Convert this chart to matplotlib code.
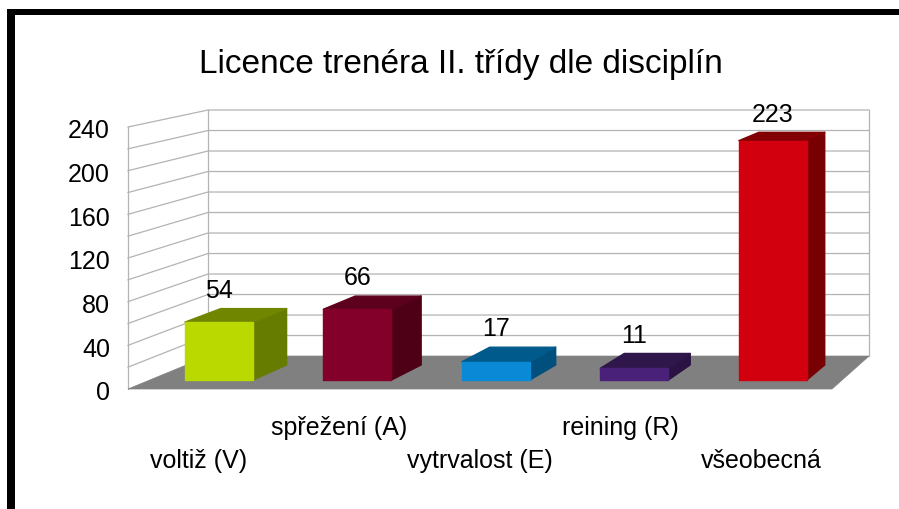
import numpy as np
import matplotlib
matplotlib.use('Agg')
import matplotlib.pyplot as plt
from matplotlib.patches import Polygon, Rectangle

plt.rcParams['font.family'] = ['Liberation Sans', 'DejaVu Sans']

# data
title = 'Licence trenéra II. třídy dle disciplín'
categories = ['voltiž (V)', 'spřežení (A)', 'vytrvalost (E)', 'reining (R)', 'všeobecná']
values = [54, 66, 17, 11, 223]
y_ticks = [0, 40, 80, 120, 160, 200, 240]
grid_step = 20
y_max = 240

# colours per bar: front, top, side
front_col = ['#b9d900', '#83002b', '#0a8ad6', '#4a2178', '#d2000e']
top_col = ['#718600', '#5c001d', '#005a8c', '#30174b', '#820004']
side_col = ['#667c00', '#4e0016', '#004f7c', '#2a1242', '#780003']

# pseudo 3d: front plane = data coords, back plane shrunk and shifted
SHRINK = 0.939
BACK_X = 0.068
BACK_Y = 30.2
D0, D1 = 0.27, 0.73     # bar depth (fraction of floor depth)
HALF_W = 0.245


def proj(u, v, d):
    bx = BACK_X + (u + 0.5) * SHRINK
    by = BACK_Y + v * SHRINK
    return u + (bx - u) * d, v + (by - v) * d


def poly(pts, **kw):
    return Polygon([proj(*p) for p in pts], closed=True, **kw)


W, H = 899, 510
fig = plt.figure(figsize=(W / 100, H / 100), dpi=100)
fig.patch.set_facecolor('white')
ax = fig.add_axes([128 / W, 120 / H, 704 / W, 262 / H])
n = len(categories)
ax.set_xlim(-0.5, n - 0.5)
ax.set_ylim(0, y_max)
ax.axis('off')

gcol = '#b3b3b3'
left, right = -0.5, n - 0.5

# walls and grid
for v in range(grid_step, y_max + 1, grid_step):
    x0, y0 = proj(left, v, 0)
    x1, y1 = proj(left, v, 1)
    x2, y2 = proj(right, v, 1)
    ax.plot([x0, x1, x2], [y0, y1, y2], color=gcol, lw=0.9, clip_on=False, zorder=1)
for u in (left, right):
    x0, y0 = proj(u, 0, 1)
    x1, y1 = proj(u, y_max, 1)
    ax.plot([x0, x1], [y0, y1], color=gcol, lw=0.9, clip_on=False, zorder=1)
x0, y0 = proj(left, 0, 0)
x1, y1 = proj(left, y_max, 0)
ax.plot([x0, x1], [y0, y1], color=gcol, lw=0.9, clip_on=False, zorder=1)

# floor
ax.add_patch(poly([(left, 0, 0), (right, 0, 0), (right, 0, 1), (left, 0, 1)],
                  facecolor='#808080', edgecolor='#808080', lw=0.5,
                  clip_on=False, zorder=2))

# bars
for i, v in enumerate(values):
    a, b = i - HALF_W, i + HALF_W
    kw = dict(clip_on=False, zorder=3, lw=1.0, joinstyle='round')
    ax.add_patch(poly([(b, 0, D0), (b, 0, D1), (b, v, D1), (b, v, D0)],
                      facecolor=side_col[i], edgecolor=side_col[i], **kw))
    ax.add_patch(poly([(a, v, D0), (b, v, D0), (b, v, D1), (a, v, D1)],
                      facecolor=top_col[i], edgecolor=top_col[i], **kw))
    ax.add_patch(poly([(a, 0, D0), (b, 0, D0), (b, v, D0), (a, v, D0)],
                      facecolor=front_col[i], edgecolor=front_col[i], **kw))
    lx, _ = proj(i, v, D0)
    _, ly = proj(i, v, D1)
    ax.annotate(str(v), (lx, ly), xytext=(0, 13.5), textcoords='offset points',
                ha='center', va='center', fontsize=18, annotation_clip=False)

# y tick labels
for t in y_ticks:
    ax.annotate(str(t), proj(left, t, 0), xytext=(-13, -2.5), textcoords='offset points',
                ha='right', va='center', fontsize=18, annotation_clip=False)

# category labels, staggered
for i, c in enumerate(categories):
    off = -51 if i % 2 == 0 else -27.5
    ax.annotate(c, proj(i, 0, 0), xytext=(0, off), textcoords='offset points',
                ha='center', va='center', fontsize=18, annotation_clip=False)

fig.text(461 / W, 1 - 73 / H, title, ha='center', va='baseline', fontsize=24)

# black frame (top and left)
fig.add_artist(Rectangle((7 / W, 0), 8 / W, 1 - 9.5 / H, transform=fig.transFigure,
                         facecolor='black', edgecolor='none'))
fig.add_artist(Rectangle((7 / W, 1 - 16 / H), 1, 6.5 / H, transform=fig.transFigure,
                         facecolor='black', edgecolor='none'))

fig.savefig('out.png', dpi=100)
